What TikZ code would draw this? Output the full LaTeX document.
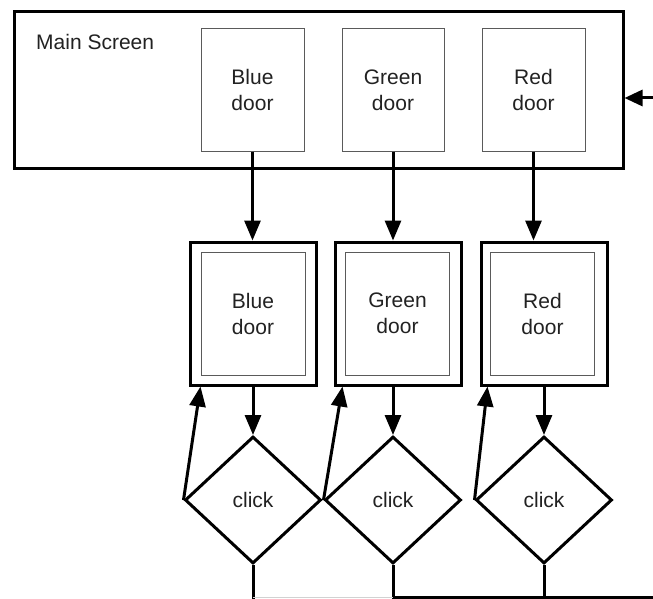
\documentclass[tikz,border=0pt]{standalone}
\usepackage{fontspec}
\setmainfont{Liberation Sans}
\usetikzlibrary{arrows.meta,shapes.geometric,calc}
\definecolor{txt}{HTML}{222222}
\definecolor{thin}{HTML}{5A5A5A}
\tikzset{
  lbl/.style={font=\fontsize{21}{26}\selectfont, text=txt, align=center},
  mainbox/.style={draw=black, line width=3pt, minimum width=609pt, minimum height=156pt, inner sep=0pt},
  doorbox/.style={lbl, draw=thin, line width=1pt, minimum height=122pt, inner sep=0pt},
  outerbox/.style={draw=black, line width=3pt, minimum width=126pt, minimum height=143pt, inner sep=0pt},
  innerbox/.style={lbl, draw=thin, line width=1pt, minimum width=104pt, minimum height=123pt, inner sep=0pt},
  clickbox/.style={lbl, shape=diamond, draw=black, line width=3pt, minimum width=136pt, minimum height=127pt, inner sep=0pt},
  conn/.style={draw=black, line width=3pt},
  arr/.style={conn, -{Triangle[length=20pt,width=16pt]}},
  arrh/.style={conn, -{Triangle[length=18pt,width=16pt]}}
}
\begin{document}
\begin{tikzpicture}[x=1pt,y=-1pt]
\useasboundingbox (0,0) rectangle (653,599);
\fill[white] (0,0) rectangle (653,599);
% main screen
\node[mainbox] (ms) at (318.5,90) {};
\node[lbl, anchor=base west, inner sep=0pt] (mst) at (36,50) {Main Screen};
\node[doorbox, minimum width=103pt] (mb) at (252.5,90) {Blue\\door};
\node[doorbox, minimum width=102pt] (mg) at (393,90) {Green\\door};
\node[doorbox, minimum width=103pt] (mr) at (533.5,90) {Red\\door};
% lower boxes
\node[outerbox] (ob) at (253,313.5) {};
\node[innerbox] (ib) at (253,313.5) {Blue\\door};
\node[outerbox] (og) at (398,313.5) {};
\node[innerbox] (ig) at (397.5,313.5) {Green\\door};
\node[outerbox] (or) at (544,313.5) {};
\node[innerbox] (ir) at (542.5,313.5) {Red\\door};
% diamonds
\node[clickbox] (db) at (253,500) {click};
\node[clickbox] (dg) at (393,500) {click};
\node[clickbox] (dr) at (544,500) {click};
% coordinates
\coordinate (inR) at (653,98);
\coordinate (bot) at (0,599);
\coordinate (botR) at (653,597.5);
% incoming arrow
\draw[arrh] (inR) -- (ms.east |- inR);
% main doors to lower boxes
\draw[arr] (mb.south) -- (mb.south |- ob.north);
\draw[arr] (mg.south) -- (mg.south |- og.north);
\draw[arr] (mr.south) -- (mr.south |- or.north);
% lower boxes to diamonds
\draw[arr] (db.north |- ob.south) -- (db.north);
\draw[arr] (dg.north |- og.south) -- (dg.north);
\draw[arr] (dr.north |- or.south) -- (dr.north);
% back arrows
\draw[arr] (db.west) -- ($(ob.south west)+(12,0)$);
\draw[arr] (dg.west) -- ($(og.south west)+(9,0)$);
\draw[arr] (dr.west) -- ($(or.south west)+(8,0)$);
% down from diamonds
\draw[conn] (db.south) -- (db.south |- bot);
\draw[conn] (dg.south) -- (dg.south |- bot);
\draw[conn] (dr.south) -- (dr.south |- bot);
% bottom line
\draw[draw=gray!35, line width=1.5pt] (db.south |- botR) -- (dg.south |- botR);
\draw[conn] (dg.south |- botR) -- (botR);
\end{tikzpicture}
\end{document}
